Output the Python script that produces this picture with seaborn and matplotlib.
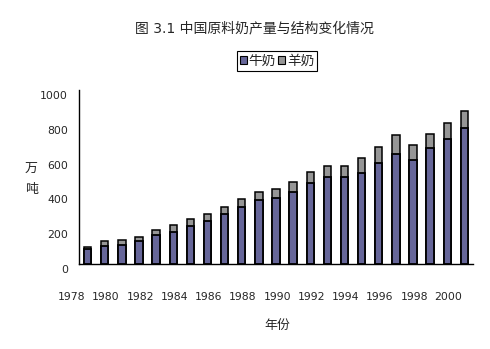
import numpy as np
import pandas as pd
import matplotlib
matplotlib.use("Agg")
import matplotlib.pyplot as plt
from matplotlib.patches import Patch
from matplotlib.transforms import ScaledTranslation
import seaborn as sns

# ---- data (万吨) ----
years = [str(y) for y in range(1978, 2001)]
cow_milk = [87, 102, 111, 132, 165, 186, 218, 249, 290, 328, 366, 379, 414,
            466, 498, 498, 525, 579, 632, 598, 666, 718, 781]
goat_milk = [9, 28, 25, 21, 29, 36, 39, 37, 40, 48, 50, 54, 60,
             60, 68, 68, 87, 91, 108, 84, 79, 91, 101]
tick_years = years[::2]
series_names = ["牛奶", "羊奶"]
title = "图 3.1 中国原料奶产量与结构变化情况"

COW = "#666699"
GOAT = "#969696"

sns.set_style("white")
plt.rcParams['font.family'] = ['DejaVu Sans', 'Noto Sans CJK SC']
plt.rcParams['axes.unicode_minus'] = False

df = pd.DataFrame({"year": years, "cow": cow_milk, "goat": goat_milk})
df["total"] = df["cow"] + df["goat"]

fig = plt.figure(figsize=(4.9, 3.49), dpi=100)
ax = fig.add_axes([79/490, 1-264/349, (473-79)/490, (264-90)/349])

sns.barplot(data=df, x="year", y="total", color=GOAT, width=0.43,
            edgecolor="black", linewidth=1.1, saturation=1, ax=ax)
sns.barplot(data=df, x="year", y="cow", color=COW, width=0.43,
            edgecolor="black", linewidth=1.3, saturation=1, ax=ax)

ax.set_xlim(-0.5, len(years) - 0.5)
ax.set_ylim(0, 1000)
ax.set_yticks([0, 200, 400, 600, 800, 1000])
ax.set_yticklabels(["0", "200", "400", "600", "800", "1000"], fontsize=7.8)
xt = list(range(0, len(years), 2))
ax.set_xticks(xt)
ax.set_xticklabels(tick_years, fontsize=7.8)
ax.set_xlabel("")
ax.set_ylabel("")
ax.tick_params(axis="both", length=0)
ax.tick_params(axis="x", pad=20)
ax.tick_params(axis="y", pad=8)

for lab in ax.get_xticklabels():
    lab.set_transform(lab.get_transform() + ScaledTranslation(-0.16, 0, fig.dpi_scale_trans))
for lab in ax.get_yticklabels():
    lab.set_transform(lab.get_transform() + ScaledTranslation(0, -0.05, fig.dpi_scale_trans))

for s in ["top", "right"]:
    ax.spines[s].set_visible(False)
for s in ["left", "bottom"]:
    ax.spines[s].set_color("black")
    ax.spines[s].set_linewidth(1.0)
ax.grid(False)

fig.text(254/490, 1-28/349, title, ha="center", va="center", fontsize=10)
fig.text(31/490, 1-169/349, "万", ha="center", va="center", fontsize=9.3)
fig.text(31/490, 1-189/349, "吨", ha="center", va="center", fontsize=9.3)
fig.text(277/490, 1-325/349, "年份", ha="center", va="center", fontsize=9.3)

handles = [Patch(facecolor=COW, edgecolor="black", linewidth=0.8),
           Patch(facecolor=GOAT, edgecolor="black", linewidth=0.8)]
leg = fig.legend(handles, series_names, loc="center", ncol=2,
                 bbox_to_anchor=(277/490, 1-61/349), fontsize=9.8,
                 handlelength=0.5, handleheight=0.5, handletextpad=0.15,
                 columnspacing=0.15, borderpad=0.2, borderaxespad=0,
                 fancybox=False, framealpha=1, edgecolor="black")
leg.get_frame().set_linewidth(0.8)

fig.savefig("out.png", dpi=100, facecolor="white")
